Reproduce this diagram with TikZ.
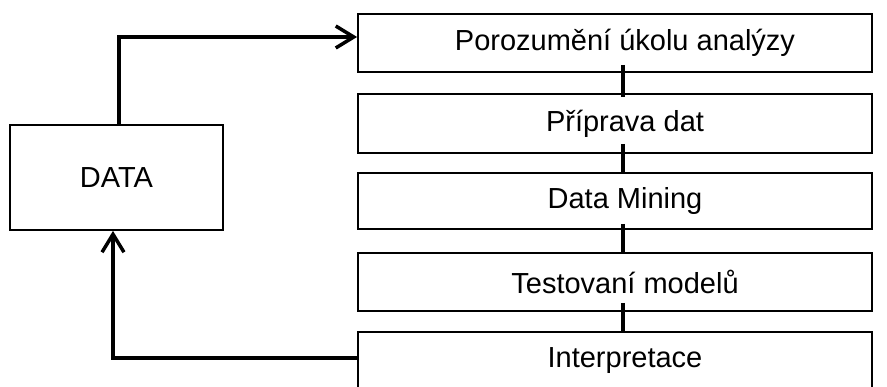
\documentclass[tikz,border=0pt]{standalone}
\usepackage{fontspec}
\setmainfont{Liberation Sans}
\usetikzlibrary{arrows.meta}
\begin{document}
\begin{tikzpicture}[x=1pt,y=1pt,
  box/.style={draw=black, line width=1.8pt, fill=white, rectangle, inner sep=0pt,
    minimum width=514pt, font=\fontsize{29}{34}\selectfont},
  datab/.style={draw=black, line width=1.8pt, fill=white, rectangle, inner sep=0pt,
    minimum width=213pt, minimum height=105pt, font=\fontsize{29}{34}\selectfont},
  arr/.style={line width=3.5pt, -{Straight Barb[length=18pt,width=22pt]}},
  link/.style={line width=4pt}]
\useasboundingbox (0,0) rectangle (887,387);
\clip (0,0) rectangle (887,387);
\fill[white] (0,0) rectangle (887,387);
\node[datab] (data) at (116.5,209.5) {DATA};
\node[box, minimum height=58pt] (b1) at (615,344) {\hspace*{20pt}Porozumění úkolu analýzy};
\node[box, minimum height=59pt] (b2) at (615,263.5) {\hspace*{20pt}Příprava dat};
\node[box, minimum height=56pt] (b3) at (615,186) {\hspace*{20pt}Data Mining};
\node[box, minimum height=58pt] (b4) at (615,105) {\hspace*{20pt}Testovaní modelů};
\node[box, minimum height=58pt] (b5) at (615,26) {\hspace*{20pt}Interpretace};
\draw[link] ([shift={(8,8)}]b1.south) -- ([shift={(8,-4)}]b2.north);
\draw[link] ([shift={(8,10)}]b2.south) -- ([shift={(8,-1)}]b3.north);
\draw[link] ([shift={(8,6)}]b3.south) -- ([shift={(8,-1)}]b4.north);
\draw[link] ([shift={(8,9)}]b4.south) -- ([shift={(8,-1)}]b5.north);
\draw[arr] ([xshift=2.5pt]data.north) |- ([yshift=6pt]b1.west);
\draw[arr] ([yshift=3pt]b5.west) -| ([xshift=-3.5pt]data.south);
\end{tikzpicture}
\end{document}
